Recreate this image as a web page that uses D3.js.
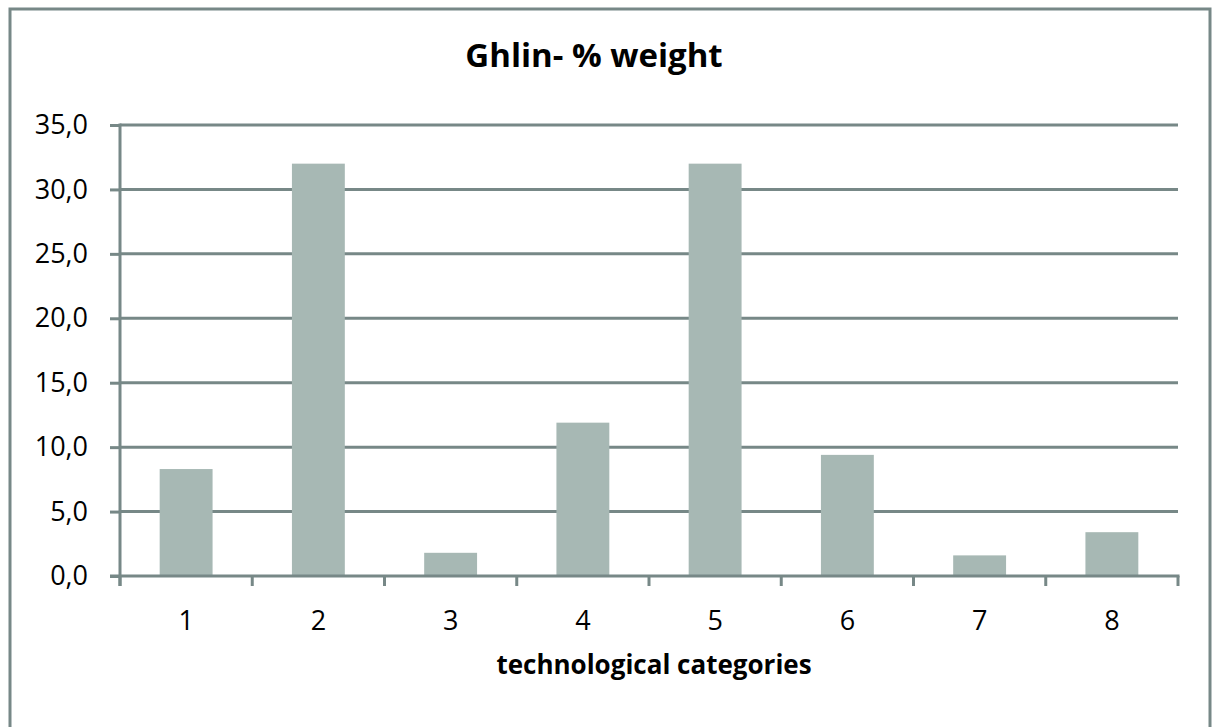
<!DOCTYPE html>
<html>
<head>
<meta charset="utf-8">
<script src="https://cdn.jsdelivr.net/npm/d3@7"></script>
<style>
  body { margin: 0; background: #fff; }
  svg text { font-family: "Open Sans", Lato, sans-serif; fill: #000; }
</style>
</head>
<body>
<svg id="chart" width="1212" height="727"></svg>
<script>
// Chart data
const categories = ["1", "2", "3", "4", "5", "6", "7", "8"];
const values = [8.3, 32.0, 1.8, 11.9, 32.0, 9.4, 1.6, 3.4];
const yTicks = [0, 5, 10, 15, 20, 25, 30, 35];

const svg = d3.select("#chart");
const margin = { top: 125, right: 34, bottom: 151, left: 120 };
const width = +svg.attr("width") - margin.left - margin.right;
const height = +svg.attr("height") - margin.top - margin.bottom;

const lineColor = "#778887";
const barColor = "#a7b8b4";

// Outer frame
svg.append("rect")
    .attr("x", 10)
    .attr("y", 9)
    .attr("width", 1200)
    .attr("height", 740)
    .attr("fill", "none")
    .attr("stroke", lineColor)
    .attr("stroke-width", 3);

const g = svg.append("g").attr("transform", `translate(${margin.left},${margin.top})`);

// Scales
const x = d3.scaleBand()
    .domain(categories)
    .range([0, width])
    .paddingInner(0.6)
    .paddingOuter(0.3);
const y = d3.scaleLinear().domain([0, 35]).range([height, 0]);

// Horizontal grid lines
g.append("g")
    .selectAll("line")
    .data(yTicks.filter(d => d > 0))
    .join("line")
    .attr("x1", 0)
    .attr("x2", width)
    .attr("y1", d => y(d))
    .attr("y2", d => y(d))
    .attr("stroke", lineColor)
    .attr("stroke-width", 3);

// Bars
g.selectAll(".bar")
    .data(values)
    .join("rect")
    .attr("class", "bar")
    .attr("x", (d, i) => x(categories[i]))
    .attr("width", x.bandwidth())
    .attr("y", d => y(d))
    .attr("height", d => y(0) - y(d))
    .attr("fill", barColor);

// Y axis
const yAxis = g.append("g")
    .call(d3.axisLeft(y).tickValues(yTicks).tickSize(10).tickPadding(22)
        .tickFormat(d => d3.format(".1f")(d).replace(".", ",")));
yAxis.select(".domain").remove();
yAxis.selectAll(".tick line").attr("stroke", lineColor).attr("stroke-width", 3);
yAxis.selectAll(".tick text").style("font-size", "27px");
yAxis.append("line")
    .attr("x1", 0).attr("x2", 0)
    .attr("y1", -1.5).attr("y2", height + 10)
    .attr("stroke", lineColor).attr("stroke-width", 3);

// X axis
const xAxisG = g.append("g").attr("transform", `translate(0,${height})`);
xAxisG.append("line")
    .attr("x1", -10).attr("x2", width + 1.5)
    .attr("y1", 0).attr("y2", 0)
    .attr("stroke", lineColor).attr("stroke-width", 3);
xAxisG.selectAll(".xtick")
    .data(d3.range(categories.length + 1))
    .join("line")
    .attr("class", "xtick")
    .attr("x1", i => i * x.step())
    .attr("x2", i => i * x.step())
    .attr("y1", 0)
    .attr("y2", 10)
    .attr("stroke", lineColor)
    .attr("stroke-width", 3);
xAxisG.selectAll(".xlabel")
    .data(categories)
    .join("text")
    .attr("class", "xlabel")
    .attr("x", d => x(d) + x.bandwidth() / 2)
    .attr("y", 54)
    .attr("text-anchor", "middle")
    .style("font-size", "27px")
    .text(d => d);

// Title
svg.append("text")
    .attr("x", 594)
    .attr("y", 67)
    .attr("text-anchor", "middle")
    .style("font-size", "33px")
    .style("font-weight", "bold")
    .text("Ghlin- % weight");

// X axis title
svg.append("text")
    .attr("x", 654)
    .attr("y", 674)
    .attr("text-anchor", "middle")
    .style("font-size", "26px")
    .style("font-weight", "bold")
    .text("technological categories");
</script>
</body>
</html>
